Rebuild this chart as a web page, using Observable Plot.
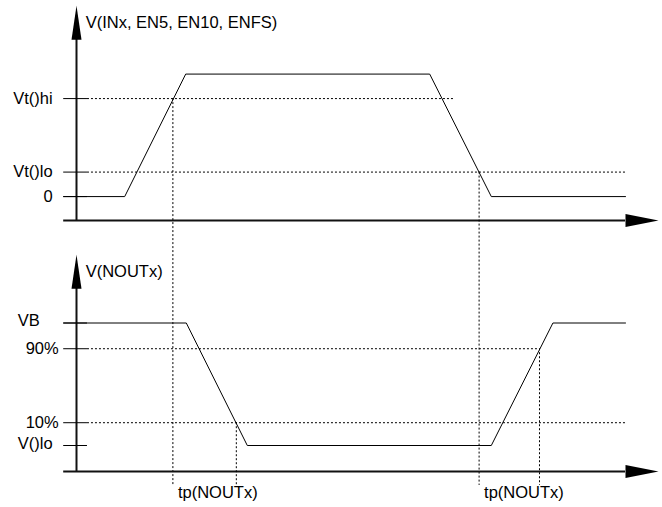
<!DOCTYPE html>
<html><head><meta charset="utf-8">
<script src="https://cdn.jsdelivr.net/npm/d3@7"></script>
<script src="https://cdn.jsdelivr.net/npm/@observablehq/plot@0.6"></script>
<style>html,body{margin:0;padding:0;background:#fff}</style>
</head><body>
<script>
// ---------------- data ----------------
const inTitle = "V(INx, EN5, EN10, ENFS)";
const outTitle = "V(NOUTx)";
const delayLabel = "tp(NOUTx)";

// input waveform (time, level)
const inTimes  = [-2.1, 7.9, 17.9, 57.9, 68, 90];
const inValues = [0, 0, 5, 5, 0, 0];
// output waveform
const outTimes  = [-2.1, 18, 28, 68, 78.1, 90];
const outValues = [5, 5, 0, 0, 5, 5];

// level labels
const inLevelNames  = ["Vt()hi", "Vt()lo", "0"];
const inLevelValues = [4, 1, 0];
const inGuideEnds   = [61.8, 90, null];
const outLevelNames  = ["VB", "90%", "10%", "V()lo"];
const outLevelValues = [5, 3.95, 0.93, 0];
const outGuideEnds   = [null, 75.9, 90, null];

// threshold crossings
const inCrossTimes   = [15.8, 66];
const inCrossLevels  = [4, 1];
const outCrossTimes  = [26.2, 75.9];
const outCrossLevels = [0.93, 3.95];

// ---------------- layout ----------------
const OFF = 10.16;     // vertical offset of upper panel (level units)
const X0 = -2.1;       // left start of level lines
const TICK_END = 1.8;  // end of solid level ticks
const DROP = -1.63;    // lower end of crossing guides
const TEND = 90;       // end of time axis (arrow base)
const FS = 16.5;
const labelDx = {"Vt()hi": -11, "Vt()lo": -11, "0": -11, "VB": -24, "90%": -5, "10%": -5, "V()lo": -11};
const labelDy = {"VB": -2, "V()lo": -2};
const dash = "2,2";
const font = "'Liberation Sans', Arial, Helvetica, sans-serif";

const upArrow = {draw(ctx) { ctx.moveTo(-5, 0); ctx.lineTo(0, -34); ctx.lineTo(5, 0); ctx.closePath(); }};
const rightArrow = {draw(ctx) { ctx.moveTo(0, -6.5); ctx.lineTo(33, 0); ctx.lineTo(0, 6.5); ctx.closePath(); }};

const panels = [
  {off: OFF, axis: -0.98, title: inTitle, times: inTimes, values: inValues, names: inLevelNames, levels: inLevelValues, ends: inGuideEnds, cross: inCrossTimes, crossLv: inCrossLevels},
  {off: 0, axis: -1.06, title: outTitle, times: outTimes, values: outValues, names: outLevelNames, levels: outLevelValues, ends: outGuideEnds, cross: outCrossTimes, crossLv: outCrossLevels}
];

const marks = [];
for (const p of panels) {
  const off = p.off;
  // axes
  marks.push(Plot.ruleY([p.axis + off], {x1: X0, x2: TEND, stroke: "#111", strokeWidth: 2}));
  marks.push(Plot.ruleX([0], {y1: p.axis + off, y2: 6.6 + off, stroke: "#111", strokeWidth: 2}));
  marks.push(Plot.dot([{t: 0, v: 6.4 + off}], {x: "t", y: "v", symbol: upArrow, fill: "#000", stroke: "none"}));
  marks.push(Plot.dot([{t: TEND, v: p.axis + off}], {x: "t", y: "v", symbol: rightArrow, fill: "#000", stroke: "none"}));
  // level ticks and guides
  const lv = p.names.map((n, i) => ({name: n, v: p.levels[i] + off, end: p.ends[i]}));
  marks.push(Plot.ruleY(lv, {y: "v", x1: X0, x2: TICK_END, stroke: "#000", strokeWidth: 1}));
  marks.push(Plot.ruleY(lv.filter(d => d.end != null), {y: "v", x1: TICK_END, x2: "end", stroke: "#000", strokeWidth: 1, strokeDasharray: dash}));
  for (const d of lv) {
    marks.push(Plot.text([d], {x: X0, y: "v", text: "name", textAnchor: "end", dx: labelDx[d.name], dy: labelDy[d.name] || 0, fontSize: FS, fill: "#000"}));
  }
  // crossing guides
  const cr = p.cross.map((t, i) => ({t, v: p.crossLv[i] + off}));
  marks.push(Plot.ruleX(cr, {x: "t", y1: "v", y2: DROP, stroke: "#000", strokeWidth: 1, strokeDasharray: dash}));
  // waveform
  marks.push(Plot.line(p.times.map((t, i) => ({t, v: p.values[i] + off})), {x: "t", y: "v", stroke: "#000", strokeWidth: 1}));
  // title
  marks.push(Plot.text([p.title], {x: 1.5, y: 7.1 + off, text: d => d, textAnchor: "start", fontSize: FS, fill: "#000"}));
}
// delay labels
marks.push(Plot.text(inCrossTimes, {x: d => d, y: -1.92, text: () => delayLabel, textAnchor: "start", dx: 5, fontSize: FS, fill: "#000"}));

const chart = Plot.plot({
  width: 662,
  height: 507,
  x: {domain: [0, 90], range: [76, 625], axis: null},
  y: {domain: [0, 5], range: [445, 322.5], axis: null},
  style: {fontFamily: font, fontSize: FS + "px", background: "#fff", color: "#000"},
  marks
});
document.body.appendChild(chart);
</script>
</body></html>
